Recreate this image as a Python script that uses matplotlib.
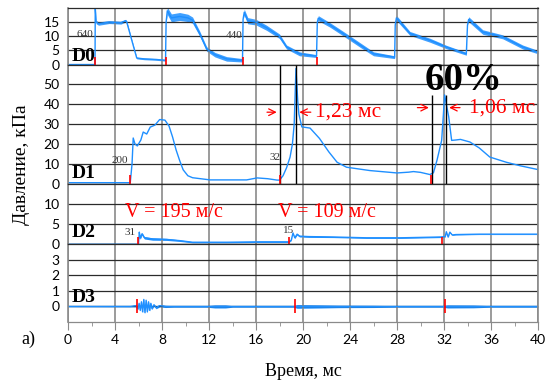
import matplotlib.pyplot as plt
import numpy as np

# time axis, ms
# D0 trace: time, pressure (kPa), noise half-width
d0_t = [0, 2.3, 2.32, 2.4, 2.6, 3.5, 4.5, 4.9, 5.0, 5.4, 5.85, 6.5, 7.5, 8.3,
        8.35, 8.45, 8.8, 9.5, 10.2, 10.6, 11.2, 11.8, 12.5, 13.5, 14.85,
        14.9, 15.0, 15.3, 16.0, 16.9, 18.0, 18.6, 19.7, 21.15,
        21.22, 21.3, 22.3, 23.4, 24.9, 26.0, 27.8,
        27.85, 27.95, 29.1, 30.8, 32.2, 33.9,
        34.0, 34.1, 35.3, 37.0, 38.7, 40.0]
d0_v = [0, 0, 20, 15, 14.5, 15, 14.8, 15.5, 15, 9, 2.3, 2.0, 1.8, 1.5,
        15, 19, 16.5, 17, 16.5, 15.7, 11, 5.5, 3.5, 2.0, 1.5,
        16, 18.5, 15.5, 15, 13, 10, 6.2, 3.8, 3.0,
        15, 16.4, 14, 11, 6.8, 3.8, 2.6,
        14, 16.5, 11, 8.6, 6.2, 3.8,
        14, 16, 11.5, 9.8, 6.2, 4.4]
d0_n = [0, 0, 0, 0.6, 0.6, 0.5, 0.5, 0.5, 0.5, 0.3, 0.3, 0.3, 0.3, 0.3,
        0, 1.3, 1.4, 1.4, 1.3, 1.1, 0.9, 0.8, 0.8, 0.8, 0.6,
        0, 1.1, 1.1, 1.0, 0.9, 0.8, 0.7, 0.7, 0.5,
        0, 0.9, 0.8, 0.8, 0.8, 0.7, 0.5,
        0, 0.9, 0.7, 0.7, 0.6, 0.5,
        0, 0.9, 0.8, 0.7, 0.7, 0.6]

# D1 trace
d1_t = [0, 5.3, 5.45, 5.55, 5.7, 5.9, 6.2, 6.4, 6.7, 7.0, 7.4, 7.8, 8.25,
        8.6, 8.9, 9.2, 9.5, 9.8, 10.2, 10.6, 12.1, 13.5, 15.2, 16.1, 17.0,
        17.8, 18.0, 18.3, 18.6, 18.9, 19.1, 19.25, 19.4, 19.55, 19.65, 19.9,
        20.6, 21.4, 22.2, 22.9, 23.7, 25.7, 28.0, 29.0, 29.4, 30.0, 30.8,
        31.1, 31.4, 31.8, 31.95, 32.05, 32.2, 32.4, 32.65, 33.0, 33.4, 34.2,
        35.0, 35.9, 37.3, 38.5, 40.0]
d1_v = [0.5, 0.5, 10, 23, 20, 19, 22, 26, 25, 28.5, 29.5, 32.3, 32,
        29, 23.5, 17, 11.7, 7, 4, 3, 1.9, 1.9, 1.9, 2.9, 2.5,
        1.8, 1.8, 4, 8, 13.4, 20, 30, 58, 42, 35, 28.6,
        28, 22.8, 16, 10.8, 8.3, 6.6, 5.4, 5.8, 6.1, 5.7, 4.6,
        5.5, 11.7, 21.8, 35, 44.7, 40, 33.7, 21.8, 22, 22.3, 21,
        18, 13.4, 10.8, 9.0, 7.1]

# D2 trace
d2_t = [0, 6.0, 6.07, 6.15, 6.3, 6.5, 7.2, 8.4, 9.5, 10.6, 13.5, 16.3, 18.8,
        19.0, 19.15, 19.3, 19.5, 19.7, 20.5, 22.6, 25.4, 28.3, 31.7, 32.1,
        32.2, 32.35, 32.5, 32.7, 33.0, 35.0, 40]
d2_v = [0, 0, 3.0, 1.5, 2.6, 1.6, 1.3, 1.2, 0.9, 0.5, 0.5, 0.6, 0.6,
        1.0, 2.8, 1.6, 2.5, 2.0, 1.9, 1.8, 1.6, 1.6, 1.8, 1.9,
        3.1, 1.8, 3.0, 2.3, 2.4, 2.5, 2.5]
d2_n = [0, 0, 0, 0.3, 0.3, 0.3, 0.3, 0.25, 0.2, 0.15, 0.15, 0.15, 0.15,
        0.1, 0, 0.2, 0.2, 0.2, 0.2, 0.15, 0.15, 0.15, 0.15, 0.1,
        0, 0.1, 0.1, 0.1, 0.1, 0.1, 0.1]

# D3 trace (burst written out point by point)
d3_t = [0, 5.3, 5.8, 5.95, 6.05, 6.15, 6.25, 6.35, 6.45, 6.55, 6.65, 6.75,
        6.85, 6.95, 7.05, 7.15, 7.3, 7.5, 7.8, 8.3, 9.0, 11.8, 12.5, 13.4,
        14.0, 19.2, 19.5, 21.5, 23.0, 26.0, 28.0, 31.9, 32.3, 34.5, 36.0, 40.0]
d3_v = [0, 0, 0.05, -0.15, 0.2, -0.25, 0.3, -0.35, 0.45, -0.4, 0.4, -0.35,
        0.3, -0.25, 0.2, -0.15, 0.1, -0.07, 0.05, 0, 0, 0, 0, 0,
        0, 0, 0, 0, 0, 0, 0, 0, 0, 0, 0, 0]
d3_n = [0.02, 0.03, 0.08, 0.05, 0.05, 0.05, 0.05, 0.05, 0.05, 0.05, 0.05, 0.05,
        0.05, 0.05, 0.05, 0.05, 0.08, 0.08, 0.08, 0.07, 0.05, 0.05, 0.1, 0.1,
        0.05, 0.05, 0.12, 0.1, 0.08, 0.07, 0.05, 0.05, 0.1, 0.09, 0.05, 0.05]

# trigger marks (red) per channel
d0_marks = [2.3, 8.35, 14.9, 21.2]
d1_marks = [5.28, 18.0, 30.9]
d2_marks = [5.93, 18.8, 31.8]
d3_marks = [5.9, 19.35, 32.1]

names = ['D0', 'D1', 'D2', 'D3']
ylims = [(0, 20), (0, 60), (0, 15), (-1, 4)]
yticks = [[0, 5, 10, 15], [0, 10, 20, 30, 40, 50], [0, 5, 10], [0, 1, 2, 3]]
name_y = [2.7, 5.3, 2.8, 0.6]

blue = '#1e8fff'
serif = 'Liberation Serif'

fig = plt.figure(figsize=(5.51, 3.85), dpi=100)
gs = fig.add_gridspec(4, 1, height_ratios=[56, 118, 60, 77], hspace=0,
                      left=68/551, right=538/551, top=1-8/385, bottom=1-322/385)
axes = [fig.add_subplot(gs[i]) for i in range(4)]

for i, ax in enumerate(axes):
    ax.set_xlim(0, 40)
    ax.set_ylim(*ylims[i])
    ax.set_yticks(yticks[i])
    ax.set_xticks(range(0, 41, 4))
    ax.set_xticks(range(2, 40, 4), minor=True)
    ax.grid(True, axis='x', color='#8a8a8a', lw=1.2)
    ax.grid(True, axis='y', color='#2b2b2b', lw=0.9)
    ax.tick_params(axis='y', length=0, pad=6, labelsize=10)
    for lab in ax.get_yticklabels():
        lab.set_family('Lato')
    for s in ['left', 'right']:
        ax.spines[s].set_color('#8a8a8a')
        ax.spines[s].set_linewidth(1.2)
    for s in ['top', 'bottom']:
        ax.spines[s].set_color('#2b2b2b')
        ax.spines[s].set_linewidth(0.9)
    if i < 3:
        ax.tick_params(axis='x', which='both', bottom=False, labelbottom=False)
    ax.text(0.3, name_y[i], names[i], fontsize=14, fontweight='bold',
            family=serif, va='center', ha='left', zorder=6)

ax0, ax1, ax2, ax3 = axes
t0 = np.array(d0_t); v0 = np.array(d0_v); n0 = np.array(d0_n)
ax0.fill_between(t0, v0 - n0, v0 + n0, color=blue, lw=0, alpha=0.85)
ax0.plot(t0, v0, color=blue, lw=1)
ax1.plot(d1_t, d1_v, color=blue, lw=1)
t2 = np.array(d2_t); v2 = np.array(d2_v); n2 = np.array(d2_n)
ax2.fill_between(t2, v2 - n2, v2 + n2, color=blue, lw=0)
ax2.plot(t2, v2, color=blue, lw=1)
t3 = np.array(d3_t); v3 = np.array(d3_v); n3 = np.array(d3_n)
ax3.fill_between(t3, v3 - n3, v3 + n3, color=blue, lw=0)
ax3.plot(t3, v3, color=blue, lw=1)

ax0.vlines(d0_marks, -3, 2.5, colors='red', lw=1.2, clip_on=False, zorder=5)
ax1.vlines(d1_marks, -2, 4.5, colors='red', lw=1.2, clip_on=False, zorder=5)
ax2.vlines(d2_marks, -1.75, 1.8, colors='red', lw=1.2, clip_on=False, zorder=5)
ax3.vlines(d3_marks, -0.4, 0.45, colors='red', lw=1.2, clip_on=False, zorder=5)

# black timing lines in D1
ax1.vlines([18.0, 19.4], -2.5, 60, colors='black', lw=1, clip_on=False, zorder=4)
ax1.vlines([30.95, 32.15], -2, 44.5, colors='black', lw=1, clip_on=False, zorder=4)

# small labels
small = dict(fontsize=8, family=serif, color='#333333', ha='center', va='center')
ax0.text(1.45, 10.8, '640', **small)
ax0.text(14.15, 10.4, '440', **small)
ax1.text(4.4, 11.7, '200', **small)
ax1.text(17.6, 13.4, '32', **small)
ax2.text(5.25, 3.0, '31', **small)
ax2.text(18.8, 3.3, '15', **small)

red_txt = dict(family=serif, color='red', va='center', ha='left')
ax2.text(4.85, 7.9, 'V = 195 м/с', fontsize=14.5, **red_txt)
ax2.text(17.9, 7.9, 'V = 109 м/с', fontsize=14.5, **red_txt)
ax1.text(21.0, 36, '1,23 мс', fontsize=15.5, **red_txt)
ax1.text(34.1, 38.3, '1,06 мс', fontsize=15.5, **red_txt)

arr = dict(arrowstyle='->', color='red', lw=0.9, mutation_scale=12)
ax1.annotate('', xy=(18.0, 36), xytext=(16.7, 36), arrowprops=arr)
ax1.annotate('', xy=(19.45, 36), xytext=(20.9, 36), arrowprops=arr)
ax1.annotate('', xy=(30.95, 38.3), xytext=(29.5, 38.3), arrowprops=arr)
ax1.annotate('', xy=(32.2, 38.3), xytext=(33.6, 38.3), arrowprops=arr)

ax1.text(33.7, 52, '60%', fontsize=28, fontweight='bold', family=serif,
         ha='center', va='center', zorder=6)

ax3.tick_params(axis='x', which='major', length=6, color='#8a8a8a', labelsize=10, pad=3)
ax3.tick_params(axis='x', which='minor', length=3, color='#8a8a8a')
for lab in ax3.get_xticklabels():
    lab.set_family('Lato')
ax3.spines['bottom'].set_color('#8a8a8a')

fig.text(22/551, 1-165/385, 'Давление, кПа', rotation=90, fontsize=14,
         family=serif, ha='center', va='center')
fig.text(303/551, 1-372/385, 'Время, мс', fontsize=13, family=serif,
         ha='center', va='center')
fig.text(28/551, 1-339/385, 'a)', fontsize=13, family=serif,
         ha='center', va='center')

fig.savefig('out.png', dpi=100)
